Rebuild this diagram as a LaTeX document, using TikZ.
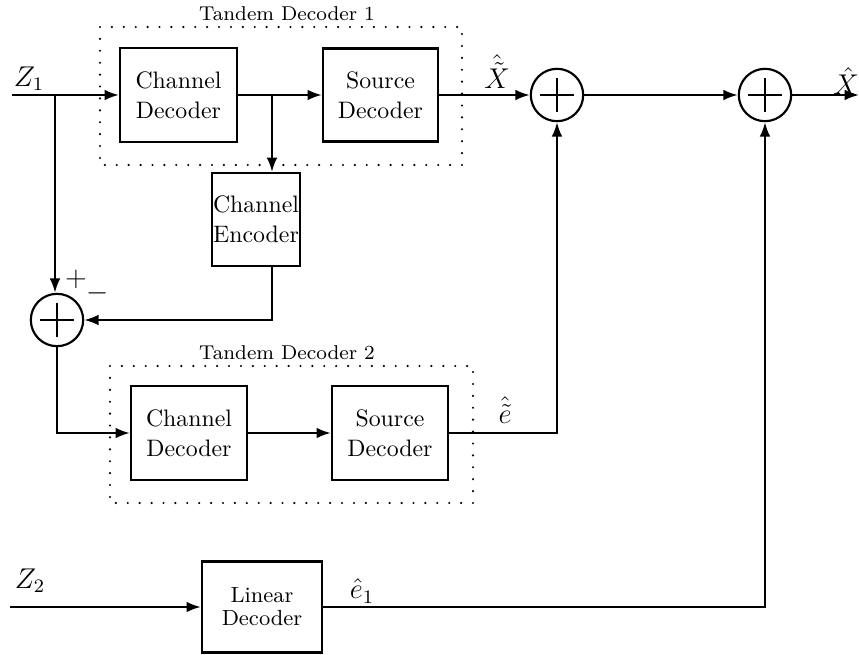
\documentclass[tikz,border=0pt]{standalone}
\usetikzlibrary{arrows.meta}
\begin{document}
\begin{tikzpicture}[x=0.42pt,y=-0.42pt,
  line width=0.9pt,
  blk/.style={draw, line width=1pt, align=center, inner sep=0pt, font=\fontsize{10}{12.5}\selectfont},
  sumc/.style={draw, circle, line width=0.9pt, minimum size=22pt, inner sep=0pt,
    path picture={\draw[line width=0.9pt] ([xshift=-7pt]path picture bounding box.center) -- ([xshift=7pt]path picture bounding box.center);
                  \draw[line width=0.9pt] ([yshift=-7pt]path picture bounding box.center) -- ([yshift=7pt]path picture bounding box.center);}},
  dotbox/.style={draw, line width=1pt, line cap=round, dash pattern=on 0pt off 5pt},
  arr/.style={-{Latex[length=6pt,width=4.5pt]}},
  lbl/.style={inner sep=0pt, font=\fontsize{8.4}{10}\selectfont},
  mlbl/.style={inner sep=0pt, font=\fontsize{11.5}{13}\selectfont}]
\useasboundingbox (0,0) rectangle (859,655);

% dotted boxes
\draw[dotbox] (100,27) rectangle (462,165);
\draw[dotbox] (110,366) rectangle (473,503);
\node[lbl] (t1) at (287,14) {Tandem Decoder 1};
\node[lbl] (t2) at (287,353) {Tandem Decoder 2};

% blocks
\node[blk, minimum width=49.1pt, minimum height=39.5pt] (cd1) at (178.5,95) {Channel\\Decoder};
\node[blk, minimum width=48.3pt, minimum height=39.1pt] (sd1) at (380.5,95) {Source\\Decoder};
\node[blk, minimum width=37pt, minimum height=39pt] (ce) at (256,219.5) {Channel\\Encoder};
\node[blk, minimum width=48.7pt, minimum height=39.5pt] (cd2) at (189,433) {Channel\\Decoder};
\node[blk, minimum width=48.7pt, minimum height=39.5pt] (sd2) at (390,433) {Source\\Decoder};
\node[blk, minimum width=50.4pt, minimum height=38.2pt, font=\fontsize{9.2}{9.6}\selectfont] (ld) at (262,607) {Linear\\Decoder};

% sums
\node[sumc] (s1) at (57,320) {};
\node[sumc] (s2) at (557,95) {};
\node[sumc] (s3) at (765,95) {};

% coordinates
\coordinate (z1) at (12,95);
\coordinate (j1) at (55,95);
\coordinate (j2) at (272,95);
\coordinate (xo) at (859,95);
\coordinate (z2) at (10,607);

% connectors
\draw[arr] (z1) -- (cd1.west);
\draw[arr] (cd1.east) -- (sd1.west);
\draw[arr] (j2) -- (j2 |- ce.north);
\draw[arr] (sd1.east) -- (s2.west);
\draw[arr] (s2.east) -- (s3.west);
\draw[arr] (s3.east) -- (xo);
\draw[arr] (j1) -- (j1 |- s1.north);
\draw[arr] (j2 |- ce.south) |- (s1.east);
\draw[arr] (s1.south) |- (cd2.west);
\draw[arr] (cd2.east) -- (sd2.west);
\draw[arr] (sd2.east) -| (s2.south);
\draw[arr] (z2) -- (ld.west);
\draw[arr] (ld.east) -| (s3.south);

% labels
\node[mlbl] (lz1) at (29,79) {$Z_1$};
\node[mlbl] (lxt) at (497,72) {$\hat{\tilde{X}}$};
\node[mlbl] (lx) at (846,81) {$\hat{X}$};
\node[mlbl] (lp) at (76,279) {$+$};
\node[mlbl] (lm) at (98,293) {$-$};
\node[mlbl] (le) at (505,410) {$\hat{\tilde{e}}$};
\node[mlbl] (lz2) at (30,581) {$Z_2$};
\node[mlbl] (le1) at (362,591) {$\hat{e}_1$};
\end{tikzpicture}
\end{document}
